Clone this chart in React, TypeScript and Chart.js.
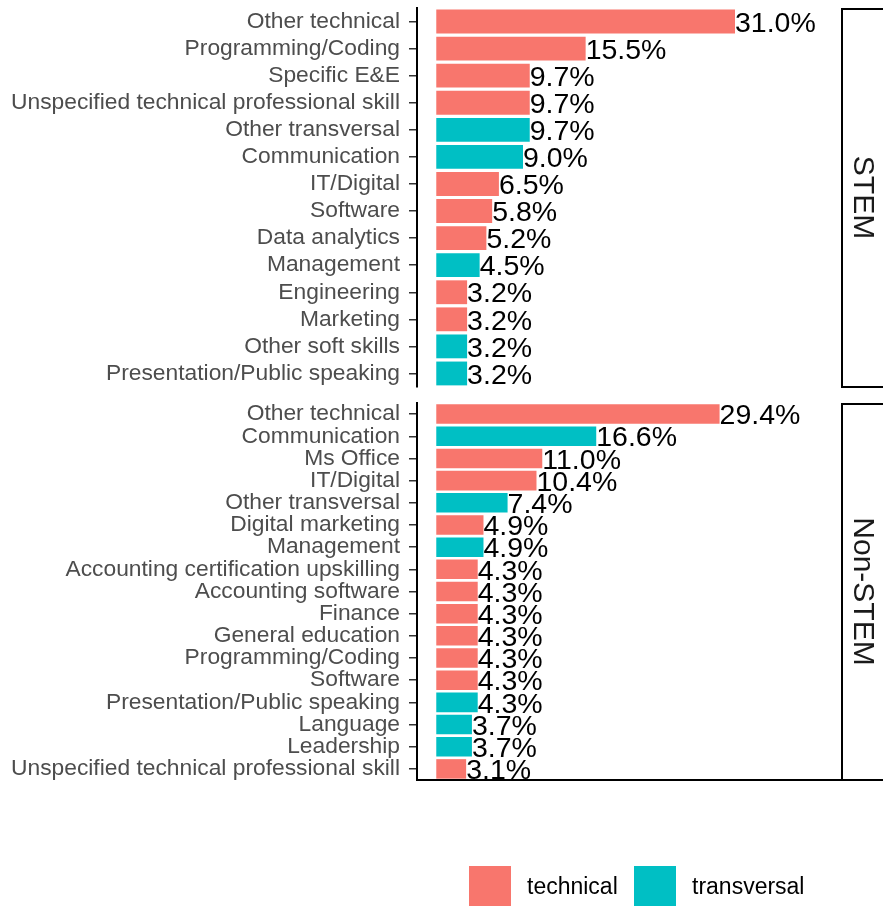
import React, { useEffect, useRef } from "react";
import { Chart, registerables } from "chart.js";

Chart.register(...registerables);

// ---------- data ----------
const stemSkills = [
  "Other technical",
  "Programming/Coding",
  "Specific E&E",
  "Unspecified technical professional skill",
  "Other transversal",
  "Communication",
  "IT/Digital",
  "Software",
  "Data analytics",
  "Management",
  "Engineering",
  "Marketing",
  "Other soft skills",
  "Presentation/Public speaking",
];
const stemValues = [31.0, 15.5, 9.7, 9.7, 9.7, 9.0, 6.5, 5.8, 5.2, 4.5, 3.2, 3.2, 3.2, 3.2];
const stemTypes = [
  "technical", "technical", "technical", "technical", "transversal", "transversal",
  "technical", "technical", "technical", "transversal", "technical", "technical",
  "transversal", "transversal",
];

const nonStemSkills = [
  "Other technical",
  "Communication",
  "Ms Office",
  "IT/Digital",
  "Other transversal",
  "Digital marketing",
  "Management",
  "Accounting certification upskilling",
  "Accounting software",
  "Finance",
  "General education",
  "Programming/Coding",
  "Software",
  "Presentation/Public speaking",
  "Language",
  "Leadership",
  "Unspecified technical professional skill",
];
const nonStemValues = [29.4, 16.6, 11.0, 10.4, 7.4, 4.9, 4.9, 4.3, 4.3, 4.3, 4.3, 4.3, 4.3, 4.3, 3.7, 3.7, 3.1];
const nonStemTypes = [
  "technical", "transversal", "technical", "technical", "transversal", "technical",
  "transversal", "technical", "technical", "technical", "technical", "technical",
  "technical", "transversal", "transversal", "transversal", "technical",
];

const panelNames = ["STEM", "Non-STEM"];
const typeNames = ["technical", "transversal"];
const typeColors: Record<string, string> = { technical: "#F8766D", transversal: "#00BFC4" };
const xMin = -2;
const xMax = 42;

// ---------- styling ----------
const FONT = "'Liberation Sans', Arial, Helvetica, sans-serif";
const W = 883;
const AXIS_W = 417;
const RIGHT_PAD = 42;

const decorPlugin = (stripLabel: string) => ({
  id: "decor-" + stripLabel,
  afterDatasetsDraw(chart: any) {
    const ctx = chart.ctx;
    const meta = chart.getDatasetMeta(0);
    const values = chart.data.datasets[0].data as number[];
    const fs = 28.5;
    ctx.save();
    ctx.font = `${fs}px ${FONT}`;
    ctx.fillStyle = "#000";
    ctx.textAlign = "left";
    ctx.textBaseline = "alphabetic";
    meta.data.forEach((bar: any, i: number) => {
      ctx.fillText(values[i].toFixed(1) + "%", bar.x, bar.y + 0.358 * fs);
    });
    ctx.restore();
  },
  afterDraw(chart: any) {
    const ctx = chart.ctx;
    const { top, bottom, right } = chart.chartArea;
    ctx.save();
    ctx.fillStyle = "#fff";
    ctx.fillRect(right + 1, top + 1, 80, bottom - top - 1);
    ctx.strokeStyle = "#000";
    ctx.lineWidth = 2;
    ctx.strokeRect(right + 1, top + 1, 80, bottom - top - 1);
    const fs = 30;
    ctx.translate(right + 24, (top + bottom) / 2);
    ctx.rotate(Math.PI / 2);
    ctx.font = `${fs}px ${FONT}`;
    ctx.fillStyle = "#1A1A1A";
    ctx.textAlign = "center";
    ctx.textBaseline = "alphabetic";
    ctx.fillText(stripLabel, 0, 0.358 * fs);
    ctx.restore();
  },
});

function makeConfig(
  skills: string[],
  values: number[],
  types: string[],
  strip: string,
  padTop: number,
  padBottom: number,
  showBottomAxis: boolean
): any {
  return {
    type: "bar",
    data: {
      labels: skills,
      datasets: [
        {
          data: values,
          backgroundColor: types.map((t) => typeColors[t]),
          borderWidth: 0,
          barPercentage: 0.88,
          categoryPercentage: 1,
        },
      ],
    },
    options: {
      indexAxis: "y",
      responsive: false,
      maintainAspectRatio: false,
      animation: false,
      devicePixelRatio: 1,
      layout: { padding: { top: padTop, bottom: padBottom, left: 0, right: RIGHT_PAD } },
      plugins: { legend: { display: false }, tooltip: { enabled: false } },
      scales: {
        x: {
          type: "linear",
          min: xMin,
          max: xMax,
          display: showBottomAxis,
          ticks: { display: false },
          grid: { display: false, drawTicks: false },
          border: { display: true, color: "#000", width: 2 },
          afterFit: (s: any) => {
            s.height = 0;
            s.paddingLeft = 0;
            s.paddingRight = 0;
          },
        },
        y: {
          type: "category",
          offset: true,
          grid: {
            display: true,
            drawOnChartArea: false,
            drawTicks: true,
            tickLength: 8,
            offset: false,
            color: "#333",
            tickColor: "#333",
            lineWidth: 1.5,
          },
          border: { display: true, color: "#000", width: 2 },
          ticks: {
            autoSkip: false,
            color: "#4D4D4D",
            font: { size: 22.8, family: FONT },
            padding: 9,
          },
          afterFit: (s: any) => {
            s.width = AXIS_W;
            s.paddingTop = 0;
            s.paddingBottom = 0;
          },
        },
      },
    },
    plugins: [decorPlugin(strip)],
  };
}

export default function App() {
  const ref1 = useRef<HTMLCanvasElement | null>(null);
  const ref2 = useRef<HTMLCanvasElement | null>(null);

  useEffect(() => {
    Chart.defaults.font.family = FONT;
    const c1 = new Chart(
      ref1.current as HTMLCanvasElement,
      makeConfig(stemSkills, stemValues, stemTypes, panelNames[0], 8, 8, false)
    );
    const c2 = new Chart(
      ref2.current as HTMLCanvasElement,
      makeConfig(nonStemSkills, nonStemValues, nonStemTypes, panelNames[1], 8, 126, true)
    );
    return () => {
      c1.destroy();
      c2.destroy();
    };
  }, []);

  const legendText: React.CSSProperties = {
    position: "absolute",
    top: 875,
    height: 23,
    lineHeight: "23px",
    fontSize: 23,
    fontFamily: FONT,
    color: "#000",
    whiteSpace: "nowrap",
  };
  const keyBox = (left: number, color: string): React.CSSProperties => ({
    position: "absolute",
    left,
    top: 866,
    width: 42,
    height: 42,
    background: color,
  });

  return (
    <div
      style={{
        position: "absolute",
        left: 0,
        top: 0,
        width: W,
        height: 906,
        overflow: "hidden",
        background: "#fff",
      }}
    >
      <canvas ref={ref1} width={W} height={395} style={{ position: "absolute", left: 0, top: 0, display: "block" }} />
      <canvas ref={ref2} width={W} height={511} style={{ position: "absolute", left: 0, top: 395, display: "block" }} />
      <div style={keyBox(469, typeColors[typeNames[0]])} />
      <div style={{ ...legendText, left: 527 }}>{typeNames[0]}</div>
      <div style={keyBox(634, typeColors[typeNames[1]])} />
      <div style={{ ...legendText, left: 692 }}>{typeNames[1]}</div>
    </div>
  );
}
